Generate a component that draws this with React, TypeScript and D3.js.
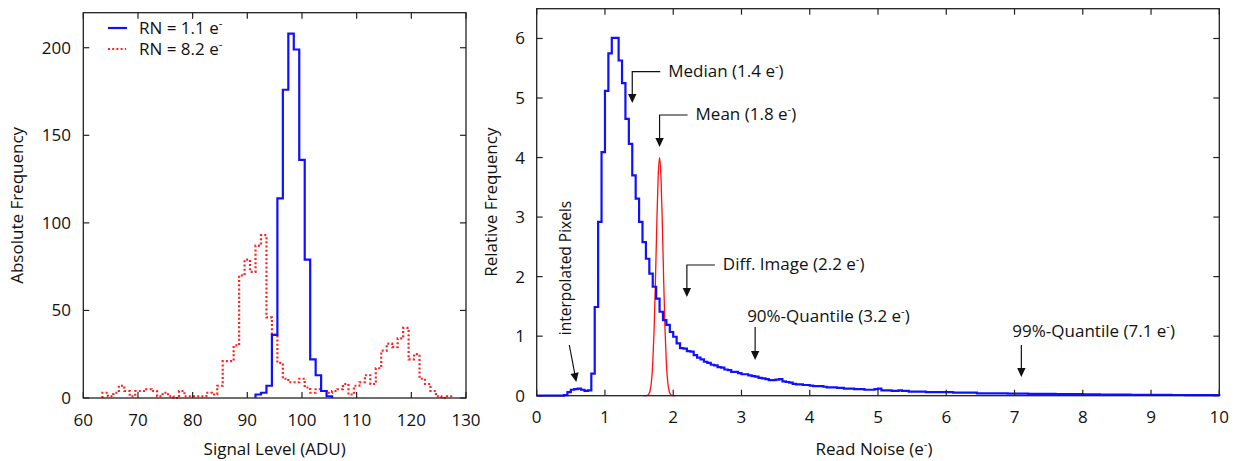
import React from "react";
import * as d3 from "d3";

// ---------- DATA ----------
// Left panel: absolute frequency per 1-ADU bin (bin centres)
const blueCenters = [92, 93, 94, 95, 96, 97, 98, 99, 100, 101, 102, 103, 104, 105];
const blueCounts = [2, 3, 7, 36, 114, 176, 208, 199, 136, 79, 22, 13, 4, 1];

const redStart = 64; // first bin centre, consecutive 1-ADU bins
const redCounts = [
  3, 1, 3, 7, 4, 1, 4, 4, 5, 4, 1, 3, 1, 0, 4, 1, 1, 1, 1, 3, 2, 7, 21, 21, 30,
  70, 79, 72, 87, 93, 46, 36, 20, 11, 9, 9, 11, 6, 3, 5, 4, 3, 4, 5, 8, 2, 7, 9,
  13, 8, 17, 27, 31, 29, 34, 40, 22, 25, 11, 8, 4, 1, 0, 1,
];

const leftXTicks = [60, 70, 80, 90, 100, 110, 120, 130];
const leftYTicks = [0, 50, 100, 150, 200];

// Right panel: relative frequency in 0.05 e- bins starting at 0
const rnBinWidth = 0.05;
const rnValues = [
  0, 0, 0, 0, 0, 0, 0, 0, 0.01, 0.06, 0.1, 0.11, 0.12, 0.1, 0.08, 0.09, 0.37,
  1.49, 2.92, 4.09, 5.12, 5.75, 6.01, 6.01, 5.63, 5.25, 4.65, 4.23, 3.7, 3.31,
  2.92, 2.58, 2.3, 2.05, 1.83, 1.63, 1.41, 1.27, 1.19, 1.07, 0.99, 0.88, 0.8,
  0.79, 0.75, 0.74, 0.68, 0.64, 0.61, 0.57, 0.55, 0.52, 0.51, 0.48, 0.47, 0.44,
  0.43, 0.4, 0.4, 0.38, 0.36, 0.36, 0.34, 0.33, 0.32, 0.3, 0.29, 0.28, 0.26,
  0.26, 0.27, 0.28, 0.24, 0.23, 0.22, 0.2, 0.19, 0.19, 0.18, 0.18, 0.17, 0.16,
  0.16, 0.16, 0.15, 0.14, 0.14, 0.14, 0.13, 0.13, 0.12, 0.12, 0.12, 0.11, 0.11,
  0.11, 0.1, 0.1, 0.1, 0.11, 0.12, 0.09, 0.09, 0.09, 0.08, 0.08, 0.09, 0.08,
  0.08, 0.07, 0.07, 0.07, 0.07, 0.07, 0.06, 0.06, 0.06, 0.06, 0.06, 0.06, 0.06,
  0.06, 0.05, 0.05, 0.05, 0.05, 0.05, 0.05, 0.05, 0.04, 0.04, 0.04, 0.04, 0.04,
  0.04, 0.04, 0.04, 0.04, 0.035, 0.035, 0.035, 0.035, 0.035, 0.035, 0.03, 0.03,
  0.03, 0.03, 0.03, 0.03, 0.03, 0.03, 0.028, 0.028, 0.028, 0.026, 0.026, 0.025,
  0.025, 0.025, 0.023, 0.023, 0.022, 0.022, 0.021, 0.02, 0.02, 0.02, 0.019,
  0.019, 0.018, 0.018, 0.017, 0.017, 0.016, 0.016, 0.016, 0.015, 0.015, 0.015,
  0.014, 0.014, 0.014, 0.013, 0.013, 0.013, 0.012, 0.012, 0.012, 0.012, 0.011,
  0.011, 0.011, 0.011, 0.01, 0.01, 0.01, 0.01, 0.01, 0.01,
];

// Right panel: red (difference-image) curve samples
const gaussX = [
  1.56, 1.58, 1.6, 1.62, 1.64, 1.66, 1.68, 1.7, 1.72, 1.74, 1.76, 1.78, 1.8,
  1.82, 1.84, 1.86, 1.88, 1.9, 1.92, 1.94, 1.96, 1.98, 2.0, 2.02, 2.04,
];
const gaussY = [
  0, 0, 0.001, 0.006, 0.024, 0.079, 0.225, 0.541, 1.112, 1.947, 2.905, 3.692,
  4.0, 3.692, 2.905, 1.947, 1.112, 0.541, 0.225, 0.079, 0.024, 0.006, 0.001, 0,
  0,
];

const rightXTicks = [0, 1, 2, 3, 4, 5, 6, 7, 8, 9, 10];
const rightYTicks = [0, 1, 2, 3, 4, 5, 6];

// annotations: [label before superscript, value on x axis]
const annoLabels = ["Median (1.4 e", "Mean (1.8 e", "Diff. Image (2.2 e", "90%-Quantile (3.2 e", "99%-Quantile (7.1 e"];
const annoValues = [1.4, 1.8, 2.2, 3.2, 7.1];

// ---------- LAYOUT ----------
const W = 1242;
const H = 461;
const FONT = "'Open Sans', sans-serif";
const FS = 17;
const TXT = "#111";

const L = { x0: 83.3, x1: 466, y0: 398, y1: 12.7 };
const R = { x0: 536.7, x1: 1219.3, y0: 395.7, y1: 8.7 };

const lx = d3.scaleLinear().domain([60, 130]).range([L.x0, L.x1]);
const ly = d3.scaleLinear().domain([0, 220]).range([L.y0, L.y1]);
const rx = d3.scaleLinear().domain([0, 10]).range([R.x0, R.x1]);
const ry = d3.scaleLinear().domain([0, 6.5]).range([R.y0, R.y1]);

function stepPoints(lefts: number[], rights: number[], vals: number[]): [number, number][] {
  const pts: [number, number][] = [[lefts[0], 0]];
  vals.forEach((v, i) => {
    pts.push([lefts[i], v]);
    pts.push([rights[i], v]);
  });
  pts.push([rights[rights.length - 1], 0]);
  return pts;
}

const SupE = ({ x, y, pre, post = "", anchor = "start", fs = FS }: any) => (
  <text x={x} y={y} fontFamily={FONT} fontSize={fs} fill={TXT} textAnchor={anchor}>
    {pre}
    <tspan dy={-7} fontSize={fs * 0.65}>-</tspan>
    <tspan dy={7}>{post}</tspan>
  </text>
);

const ArrowHead = ({ x, y, angle = 90 }: any) => (
  <polygon
    points="0,0 -9,-4.2 -9,4.2"
    transform={`translate(${x},${y}) rotate(${angle})`}
    fill="#111"
  />
);

const Frame = ({ box, xs, ys, xt, yt, xFmt, yLabelX, xLabelY }: any) => {
  const tl = 6;
  return (
    <g>
      <rect
        x={box.x0}
        y={box.y1}
        width={box.x1 - box.x0}
        height={box.y0 - box.y1}
        fill="none"
        stroke="#222"
        strokeWidth={1.3}
      />
      {xt.map((t: number) => (
        <g key={"x" + t}>
          <line x1={xs(t)} x2={xs(t)} y1={box.y0} y2={box.y0 - tl} stroke="#222" strokeWidth={1.2} />
          <line x1={xs(t)} x2={xs(t)} y1={box.y1} y2={box.y1 + tl} stroke="#222" strokeWidth={1.2} />
          <text x={xs(t)} y={xLabelY} textAnchor="middle" fontFamily={FONT} fontSize={FS} fill={TXT}>
            {xFmt(t)}
          </text>
        </g>
      ))}
      {yt.map((t: number) => (
        <g key={"y" + t}>
          <line x1={box.x0} x2={box.x0 + tl} y1={ys(t)} y2={ys(t)} stroke="#222" strokeWidth={1.2} />
          <line x1={box.x1} x2={box.x1 - tl} y1={ys(t)} y2={ys(t)} stroke="#222" strokeWidth={1.2} />
          <text x={yLabelX} y={ys(t) + 6} textAnchor="end" fontFamily={FONT} fontSize={FS} fill={TXT}>
            {t}
          </text>
        </g>
      ))}
    </g>
  );
};

export default function App() {
  const lineL = d3
    .line<[number, number]>()
    .x((d) => lx(d[0]))
    .y((d) => ly(d[1]));
  const lineR = d3
    .line<[number, number]>()
    .x((d) => rx(d[0]))
    .y((d) => ry(d[1]));

  const bluePts = stepPoints(
    blueCenters.map((c) => c - 0.5),
    blueCenters.map((c) => c + 0.5),
    blueCounts
  );
  const redC = redCounts.map((_, i) => redStart + i);
  const redPts = stepPoints(
    redC.map((c) => c - 0.5),
    redC.map((c) => c + 0.5),
    redCounts
  );
  const rnPts = stepPoints(
    rnValues.map((_, i) => i * rnBinWidth),
    rnValues.map((_, i) => (i + 1) * rnBinWidth),
    rnValues
  );
  const gaussPts: [number, number][] = gaussX.map((x, i) => [x, gaussY[i]]);
  const gaussLine = d3
    .line<[number, number]>()
    .x((d) => rx(d[0]))
    .y((d) => ry(d[1]))
    .curve(d3.curveMonotoneX);

  // annotation geometry (pixel layout)
  const lShaped = [
    { i: 0, lineY: 71.7, tipY: 103 },
    { i: 1, lineY: 115, tipY: 147 },
    { i: 2, lineY: 265, tipY: 297 },
  ];
  const straight = [
    { i: 3, textY: 322, topY: 327, tipY: 360, dx: -8 },
    { i: 4, textY: 337, topY: 345, tipY: 377, dx: -9 },
  ];

  return (
    <svg
      width={W}
      height={H}
      viewBox={`0 0 ${W} ${H}`}
      style={{ position: "absolute", left: 0, top: 0, background: "#fff" }}
    >
      <rect x={0} y={0} width={W} height={H} fill="#fff" />

      {/* ---------- LEFT PANEL ---------- */}
      <path d={lineL(redPts) || ""} fill="none" stroke="#ff2020" strokeWidth={2.2} strokeDasharray="2,2.2" />
      <path d={lineL(bluePts) || ""} fill="none" stroke="#1010ff" strokeWidth={2.2} />
      <Frame
        box={L}
        xs={lx}
        ys={ly}
        xt={leftXTicks}
        yt={leftYTicks}
        xFmt={(t: number) => String(t)}
        yLabelX={71}
        xLabelY={426}
      />
      <text
        transform={`translate(23,${(L.y0 + L.y1) / 2}) rotate(-90)`}
        textAnchor="middle"
        fontFamily={FONT}
        fontSize={FS}
        fill={TXT}
      >
        Absolute Frequency
      </text>
      <text x={(L.x0 + L.x1) / 2} y={455} textAnchor="middle" fontFamily={FONT} fontSize={FS} fill={TXT}>
        Signal Level (ADU)
      </text>
      {/* legend */}
      <line x1={108} x2={127} y1={28} y2={28} stroke="#1010ff" strokeWidth={2.2} />
      <SupE x={139} y={34} pre="RN = 1.1 e" />
      <line x1={108} x2={126} y1={49} y2={49} stroke="#ff2020" strokeWidth={2.2} strokeDasharray="2,2.2" />
      <SupE x={139} y={55} pre="RN = 8.2 e" />

      {/* ---------- RIGHT PANEL ---------- */}
      <path d={gaussLine(gaussPts) || ""} fill="none" stroke="#ff1010" strokeWidth={1.3} />
      <path d={lineR(rnPts) || ""} fill="none" stroke="#1010ff" strokeWidth={2.2} />
      <Frame
        box={R}
        xs={rx}
        ys={ry}
        xt={rightXTicks}
        yt={rightYTicks}
        xFmt={(t: number) => String(t)}
        yLabelX={525}
        xLabelY={423}
      />
      <text
        transform={`translate(497,${(R.y0 + R.y1) / 2}) rotate(-90)`}
        textAnchor="middle"
        fontFamily={FONT}
        fontSize={FS}
        fill={TXT}
      >
        Relative Frequency
      </text>
      <SupE x={(R.x0 + R.x1) / 2 - 4} y={455} pre="Read Noise (e" post=")" anchor="middle" />

      {/* annotations */}
      {lShaped.map((a) => {
        const ax = rx(annoValues[a.i]);
        return (
          <g key={"a" + a.i}>
            <path d={`M${ax + 28},${a.lineY} H${ax} V${a.tipY - 6}`} fill="none" stroke="#111" strokeWidth={1.2} />
            <ArrowHead x={ax} y={a.tipY} />
            <SupE x={ax + 36} y={a.lineY + 5} pre={annoLabels[a.i]} post=")" />
          </g>
        );
      })}
      {straight.map((a) => {
        const ax = rx(annoValues[a.i]);
        return (
          <g key={"s" + a.i}>
            <line x1={ax} x2={ax} y1={a.topY} y2={a.tipY - 6} stroke="#111" strokeWidth={1.2} />
            <ArrowHead x={ax} y={a.tipY} />
            <SupE x={ax + a.dx} y={a.textY} pre={annoLabels[a.i]} post=")" />
          </g>
        );
      })}
      {/* interpolated pixels */}
      <text
        transform={`translate(571,268) rotate(-90)`}
        textAnchor="middle"
        fontFamily={FONT}
        fontSize={15.5}
        fill={TXT}
      >
        interpolated Pixels
      </text>
      <line x1={569.3} y1={345} x2={575} y2={375} stroke="#111" strokeWidth={1.2} />
      <ArrowHead x={576.3} y={382} angle={79} />
    </svg>
  );
}
